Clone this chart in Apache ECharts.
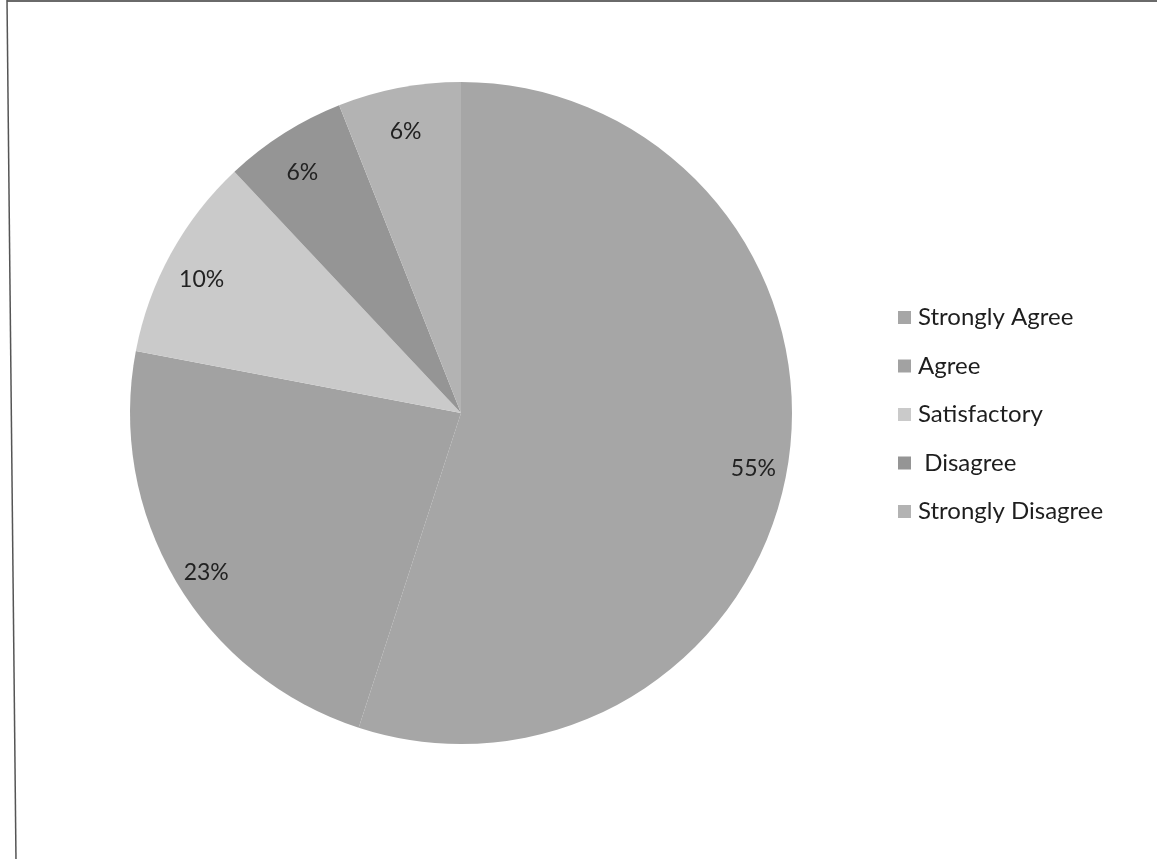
<!DOCTYPE html>
<html>
<head>
<meta charset="utf-8">
<script src="https://cdn.jsdelivr.net/npm/echarts@6/dist/echarts.min.js"></script>
<style>
html,body{margin:0;padding:0;background:#fff;}
#chart{width:1157px;height:859px;}
</style>
</head>
<body>
<div id="chart"></div>
<script>
const categories = ['Strongly Agree', 'Agree', 'Satisfactory', ' Disagree', 'Strongly Disagree'];
const values = [55, 23, 10, 6, 6];
const colors = ['#a6a6a6', '#a2a2a2', '#cacaca', '#959595', '#b3b3b3'];

const chart = echarts.init(document.getElementById('chart'), null, {renderer: 'canvas'});
const data = categories.map((n, i) => ({name: n, value: values[i], itemStyle: {color: colors[i]}}));
const font = 'Lato, "Liberation Sans", sans-serif';

chart.setOption({
  backgroundColor: '#ffffff',
  animation: false,
  legend: {
    orient: 'vertical',
    left: 893,
    top: 300,
    itemWidth: 13,
    itemHeight: 13,
    itemGap: 23.5,
    icon: 'rect',
    data: categories,
    textStyle: {fontFamily: font, fontSize: 24, color: '#1e1e1e', lineHeight: 25, padding: [0, 0, 0, 2]}
  },
  graphic: [
    {type: 'polyline', shape: {points: [[7, 1], [1157, 1]]}, style: {stroke: '#6a6a6a', lineWidth: 2, fill: null}},
    {type: 'polyline', shape: {points: [[7, 0], [16, 859]]}, style: {stroke: '#555555', lineWidth: 1.5, fill: null}}
  ],
  series: [
    {
      type: 'pie',
      center: [461, 413],
      radius: [0, 331],
      startAngle: 90,
      clockwise: true,
      silent: true,
      label: {show: false},
      labelLine: {show: false},
      itemStyle: {borderWidth: 0},
      data: data
    },
    {
      type: 'pie',
      center: [461, 413],
      radius: [255, 331],
      startAngle: 90,
      clockwise: true,
      silent: true,
      legendHoverLink: false,
      itemStyle: {color: 'rgba(0,0,0,0)', borderWidth: 0},
      label: {
        show: true,
        position: 'inside',
        formatter: '{c}%',
        fontFamily: font,
        fontSize: 23,
        color: '#222222',
        offset: [0, 9]
      },
      labelLine: {show: false},
      data: categories.map((n, i) => ({name: n, value: values[i]}))
    }
  ]
});
</script>
</body>
</html>
